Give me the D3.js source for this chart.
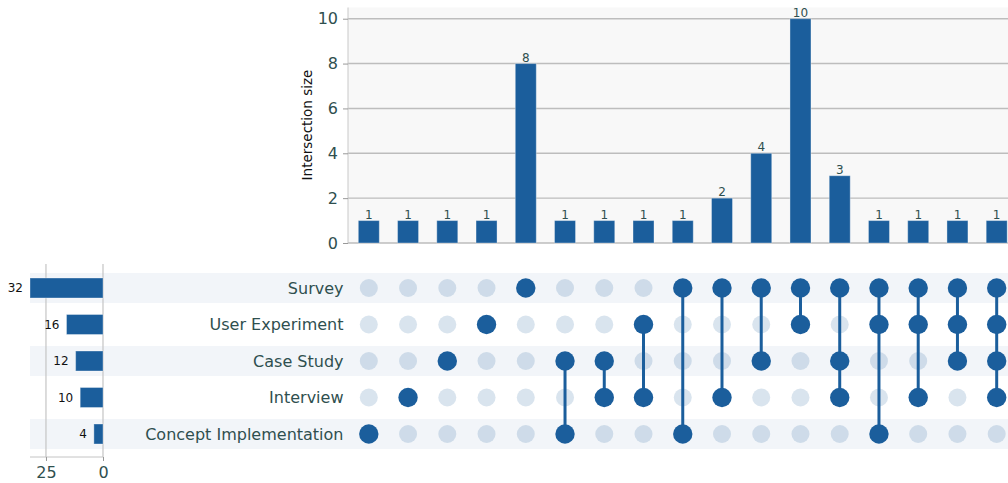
<!DOCTYPE html>
<html><head><meta charset="utf-8">
<script src="https://cdn.jsdelivr.net/npm/d3@7"></script>
<style>body{margin:0;background:#fff;font-family:"DejaVu Sans",sans-serif}</style>
</head><body><svg id="c" width="1008" height="483"></svg>
<script>
const sets = ["Survey","User Experiment","Case Study","Interview","Concept Implementation"];
const setSizes = [32,16,12,10,4];
const combos = [
  ["Concept Implementation"],
  ["Interview"],
  ["Case Study"],
  ["User Experiment"],
  ["Survey"],
  ["Case Study","Concept Implementation"],
  ["Case Study","Interview"],
  ["User Experiment","Interview"],
  ["Survey","Concept Implementation"],
  ["Survey","Interview"],
  ["Survey","Case Study"],
  ["Survey","User Experiment"],
  ["Survey","Case Study","Interview"],
  ["Survey","User Experiment","Concept Implementation"],
  ["Survey","User Experiment","Interview"],
  ["Survey","User Experiment","Case Study"],
  ["Survey","User Experiment","Case Study","Interview"]
];
const comboSizes = [1,1,1,1,8,1,1,1,1,2,4,10,3,1,1,1,1];
const yTicks = [0,2,4,6,8,10];
const setTicks = [25,0];

const BLUE = "#1b5e9c", TXT = "#2f4f4f";
const svg = d3.select("#c");

// top plot
const x = d3.scaleBand().domain(d3.range(combos.length)).range([348.5, 1017]).paddingInner(0.465).paddingOuter(0.25);
const y = d3.scaleLinear().domain([0,10.5]).range([243,7.5]);
svg.append("rect").attr("x",348).attr("y",y(10.5)).attr("width",1008-348).attr("height",243-y(10.5)).attr("fill","#f8f8f8");
svg.append("g").selectAll("line").data(yTicks).join("line")
  .attr("x1",348).attr("x2",1008).attr("y1",d=>y(d)).attr("y2",d=>y(d))
  .attr("stroke","#bdbdbd").attr("stroke-width",1.4);
const yAxis = svg.append("g").attr("transform","translate(348,0)").call(d3.axisLeft(y).tickValues(yTicks).tickSize(5).tickPadding(5));
yAxis.select(".domain").attr("stroke","#c8c8c8").attr("d","M0,"+y(10.5)+"V243");
yAxis.selectAll(".tick line").attr("stroke","#999");
yAxis.selectAll("text").attr("font-size",16).attr("fill",TXT).attr("font-family","DejaVu Sans");
svg.append("text").attr("transform","translate(312,125) rotate(-90)").attr("text-anchor","middle")
  .attr("font-size",13.5).attr("fill","#111").text("Intersection size");

svg.append("g").selectAll("rect").data(comboSizes).join("rect")
  .attr("x",(d,i)=>x(i)).attr("width",x.bandwidth()).attr("y",d=>y(d)).attr("height",d=>243-y(d))
  .attr("fill",BLUE).attr("stroke","#ffffff").attr("stroke-opacity",0.35).attr("stroke-width",1);
svg.append("g").selectAll("text").data(comboSizes).join("text")
  .attr("x",(d,i)=>x(i)+x.bandwidth()/2).attr("y",d=>y(d)-2).attr("text-anchor","middle")
  .attr("font-size",12).attr("fill",TXT).text(d=>d);

// matrix
const ry = d3.scalePoint().domain(sets).range([288,434]);
const rowH = 30;
svg.append("g").selectAll("rect").data(sets.filter((s,i)=>i%2===0)).join("rect")
  .attr("x",30).attr("width",978).attr("y",d=>ry(d)-rowH/2).attr("height",rowH).attr("fill","#f2f5f9");
svg.append("g").selectAll("text").data(sets).join("text")
  .attr("x",343.5).attr("y",d=>ry(d)).attr("dy","0.35em").attr("text-anchor","end")
  .attr("font-size",16).attr("fill",TXT).text(d=>d);
const cx = i => x(i)+x.bandwidth()/2;
const mg = svg.append("g");
combos.forEach((c,i)=>{
  sets.forEach(s=>{
    if(!c.includes(s)) mg.append("circle").attr("cx",cx(i)).attr("cy",ry(s)).attr("r",9).attr("fill",BLUE).attr("fill-opacity",0.17);
  });
  const ys = c.map(s=>ry(s));
  if(c.length>1) mg.append("line").attr("x1",cx(i)).attr("x2",cx(i)).attr("y1",d3.min(ys)).attr("y2",d3.max(ys)).attr("stroke",BLUE).attr("stroke-width",3);
  c.forEach(s=>mg.append("circle").attr("cx",cx(i)).attr("cy",ry(s)).attr("r",9.7).attr("fill",BLUE));
});

// set sizes
const sx = d3.scaleLinear().domain([0,32]).range([103,30]);
svg.append("g").selectAll("line").data(setTicks).join("line")
  .attr("x1",d=>sx(d)).attr("x2",d=>sx(d)).attr("y1",264).attr("y2",457).attr("stroke","#c4c4c4").attr("stroke-width",1.2);
svg.append("g").selectAll("rect").data(setSizes).join("rect")
  .attr("x",d=>sx(d)).attr("width",d=>103-sx(d)).attr("y",(d,i)=>ry(sets[i])-10).attr("height",20)
  .attr("fill",BLUE).attr("stroke","#ffffff").attr("stroke-opacity",0.35).attr("stroke-width",1);
svg.append("g").selectAll("text").data(setSizes).join("text")
  .attr("x",d=>sx(d)-7).attr("y",(d,i)=>ry(sets[i])).attr("dy","0.35em").attr("text-anchor","end")
  .attr("font-size",12).attr("fill","#111").text(d=>d);
const sAxis = svg.append("g").attr("transform","translate(0,457)").call(d3.axisBottom(sx).tickValues(setTicks).tickSize(4).tickPadding(6));
sAxis.select(".domain").attr("stroke","#c4c4c4").attr("d","M30,0H103");
sAxis.selectAll(".tick line").attr("stroke","#999");
sAxis.selectAll("text").attr("font-size",16).attr("fill",TXT).attr("font-family","DejaVu Sans");
</script></body></html>
